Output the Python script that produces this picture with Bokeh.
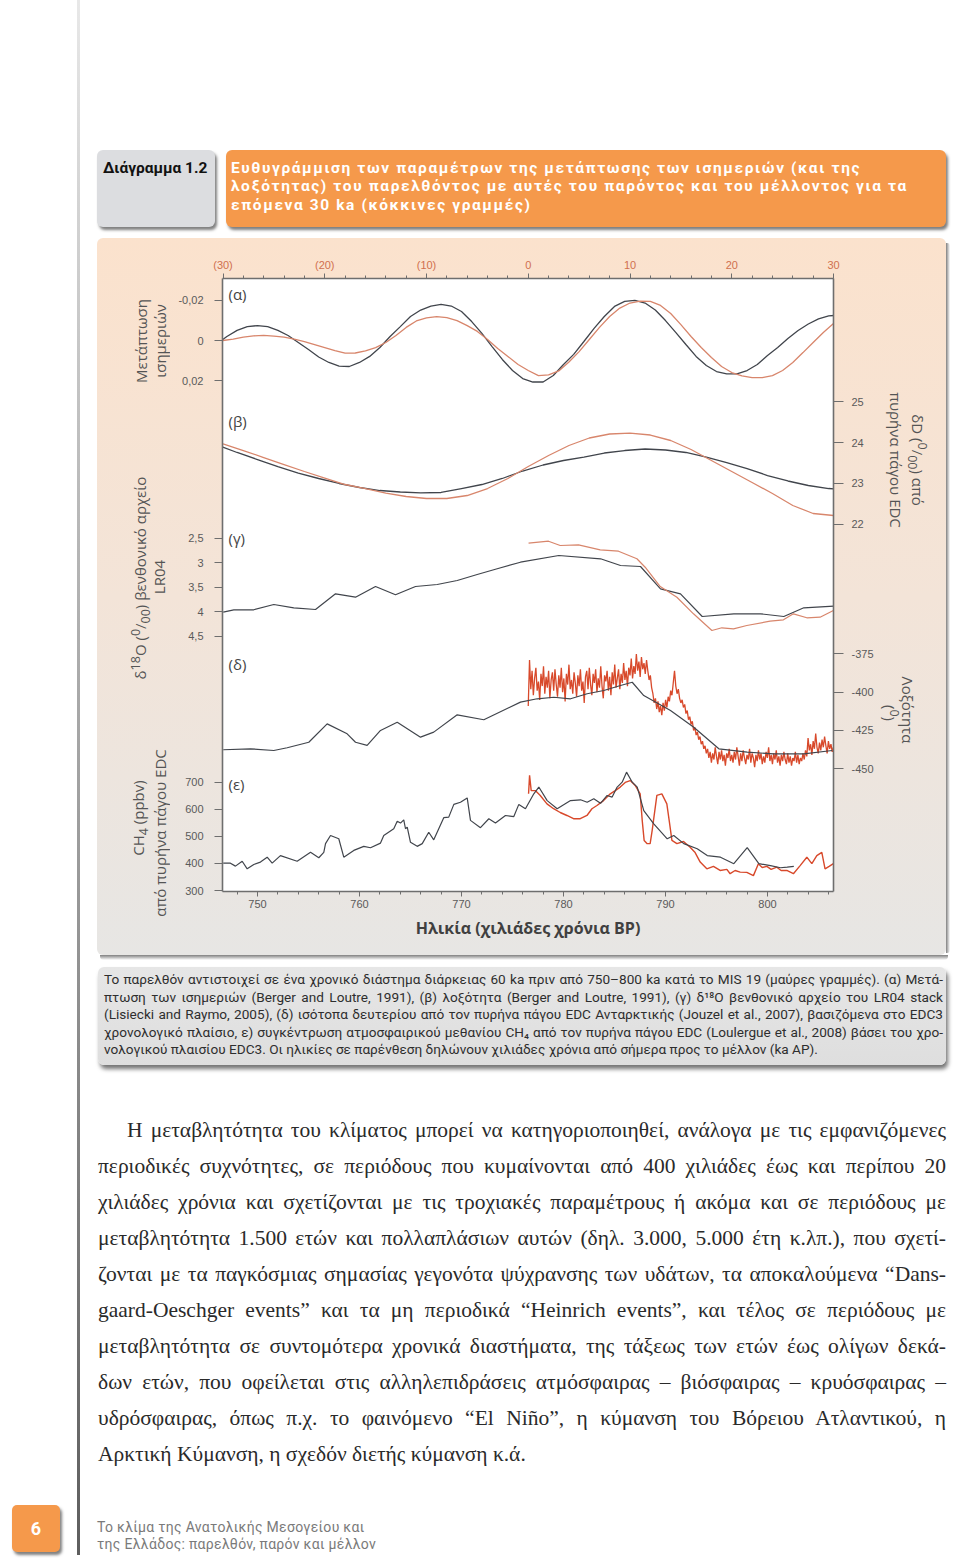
from bokeh.plotting import figure
from bokeh.models import Range1d, LinearAxis, FixedTicker, CustomJSTickFormatter, Label, Div
from bokeh.layouts import column, row
from bokeh.embed import file_html
from bokeh.resources import INLINE

# ------------------------------------------------------------------ data
# (a) precession  - past (black, age ka BP) / future (red, ka from present)
PREC_PAST_AGE = [746.6] + list(range(747, 807)) + [806.5]
PREC_PAST = [-0.0005, -0.0020, -0.0050, -0.0069, -0.0074, -0.0069, -0.0050, -0.0025, 0.0010, 0.0045,
             0.0082, 0.0109, 0.0127, 0.0129, 0.0109, 0.0079, 0.0035, -0.0020, -0.0069, -0.0119,
             -0.0151, -0.0171, -0.0179, -0.0171, -0.0144, -0.0094, -0.0035, 0.0030, 0.0094, 0.0149,
             0.0189, 0.0206, 0.0206, 0.0174, 0.0119, 0.0069, 0.0005, -0.0060, -0.0119, -0.0169,
             -0.0194, -0.0199, -0.0186, -0.0151, -0.0099, -0.0040, 0.0020, 0.0079, 0.0124, 0.0154,
             0.0166, 0.0166, 0.0149, 0.0119, 0.0074, 0.0035, -0.0010, -0.0050, -0.0082, -0.0107,
             -0.0122, -0.0124]
PREC_FUT_T = list(range(-30, 31))
PREC_FUT = [0.0, -0.0007, -0.0017, -0.0023, -0.0025, -0.0022, -0.0017, -0.0007, 0.0005, 0.0020,
            0.0035, 0.0050, 0.0063, 0.0062, 0.0052, 0.0035, 0.0010, -0.0025, -0.0065, -0.0097,
            -0.0112, -0.0119, -0.0114, -0.0099, -0.0074, -0.0045, -0.0005, 0.0040, 0.0079, 0.0119,
            0.0149, 0.0174, 0.0171, 0.0151, 0.0107, 0.0055, -0.0005, -0.0065, -0.0119, -0.0161,
            -0.0186, -0.0195, -0.0194, -0.0174, -0.0134, -0.0079, -0.0020, 0.0035, 0.0084, 0.0129,
            0.0159, 0.0176, 0.0184, 0.0184, 0.0174, 0.0149, 0.0109, 0.0060, 0.0010, -0.0040, -0.0084]

# (b) obliquity (degrees)
OBL_PAST_AGE = [746.6] + list(range(748, 807, 2)) + [806.5]
OBL_PAST = [23.885, 23.756, 23.584, 23.413, 23.254, 23.120, 22.998, 22.900, 22.826, 22.790,
            22.770, 22.778, 22.875, 22.973, 23.120, 23.303, 23.450, 23.560, 23.645, 23.743,
            23.804, 23.841, 23.817, 23.756, 23.645, 23.511, 23.364, 23.193, 23.059, 22.949,
            22.875, 22.868]
OBL_FUT_T = list(range(-30, 31, 2))
OBL_FUT = [23.968, 23.804, 23.633, 23.462, 23.291, 23.132, 22.973, 22.875, 22.765, 22.680,
           22.631, 22.631, 22.704, 22.875, 23.120, 23.413, 23.682, 23.927, 24.110, 24.208,
           24.227, 24.183, 24.049, 23.829, 23.560, 23.291, 23.022, 22.753, 22.460, 22.264, 22.215]

# (c) benthic d18O LR04 (permil)
D18_PAST_AGE = [746.64, 747.68, 749.64, 751.60, 753.56, 755.69, 757.65, 759.61, 761.57, 763.53,
                765.49, 767.62, 769.58, 771.54, 773.50, 775.78, 779.54, 783.63, 785.59, 787.55,
                789.51, 791.47, 793.60, 796.70, 799.31, 801.60, 803.56, 806.50]
D18_PAST = [4.004, 3.955, 3.955, 3.847, 3.914, 3.949, 3.629, 3.698, 3.480, 3.649,
            3.480, 3.439, 3.357, 3.235, 3.118, 2.984, 2.847, 2.914, 3.051, 3.071,
            3.527, 3.629, 4.092, 4.037, 4.037, 4.092, 3.914, 3.882]
D18_FUT_T = [0.03, 1.99, 3.14, 4.94, 7.07, 8.87, 10.68, 11.49, 12.97, 14.61, 16.24, 18.05,
             19.03, 20.17, 21.48, 23.77, 25.08, 26.06, 27.38, 28.68, 29.99]
D18_FUT = [2.596, 2.555, 2.643, 2.629, 2.731, 2.759, 2.914, 3.086, 3.480, 3.698, 4.037, 4.378,
           4.322, 4.343, 4.276, 4.188, 4.159, 4.037, 4.118, 4.106, 3.969]

# (d) EDC deuterium (permil)
DD_PAST_AGE = [746.64, 749.31, 751.60, 752.91, 755.03, 756.83, 758.79, 759.61, 760.75, 762.06,
               763.70, 765.98, 767.28, 769.58, 772.19, 775.78, 777.42, 779.05, 780.69, 782.32,
               783.95, 785.59, 786.74, 787.87, 790.49, 792.77, 795.23, 798.01, 800.62, 803.56, 806.34]
DD_PAST = [-437.6, -437.0, -438.1, -436.3, -432.7, -420.7, -427.2, -432.7, -434.8, -425.0,
           -419.6, -429.4, -426.1, -414.8, -418.0, -406.5, -404.3, -403.3, -404.3, -401.0,
           -398.9, -395.6, -393.5, -402.2, -412.0, -422.9, -437.0, -439.2, -440.3, -440.3, -438.1]
DD_FUT_T = [i / 8 for i in range(241)]   # sampled every 0.125 ka
DD_FUT = [-409, -379, -398, -386, -402, -391, -384, -399, -393, -405,
          -388, -396, -383, -401, -390, -397, -386, -404, -392, -387,
          -399, -385, -395, -403, -389, -397, -384, -400, -391, -406,
          -388, -395, -382, -398, -392, -401, -387, -394, -403, -389,
          -396, -385, -399, -393, -407, -390, -386, -398, -384, -395,
          -402, -388, -394, -385, -400, -391, -397, -383, -396, -404,
          -389, -393, -386, -399, -390, -402, -387, -395, -382, -397,
          -391, -385, -398, -388, -394, -381, -392, -386, -396, -384,
          -389, -378, -391, -383, -388, -375, -386, -380, -390, -377,
          -385,
          -381, -388, -379, -386, -392, -389, -397, -401, -407, -404,
          -411, -406, -413, -409, -415, -407, -412, -405, -410, -403,
          -406, -399, -402, -394, -386, -396, -401, -398, -404, -407,
          -405, -410, -408, -414, -412, -418, -416, -421, -419, -425,
          -423, -428, -426, -431, -429, -434, -432, -437, -435, -440,
          -437, -443, -439, -446, -440, -444, -436, -442, -447, -439,
          -444, -438, -445, -441, -448, -440, -443, -437, -445, -441,
          -446, -439, -444, -436, -442, -448, -440, -445, -438, -443,
          -447, -441, -444, -437, -446, -440, -443, -449, -441, -445,
          -438, -444, -440, -447, -442, -446, -439, -443, -436, -445,
          -441, -447, -440, -444, -438, -446, -442, -448, -441, -445,
          -439, -444, -447, -440, -446, -442, -448, -443, -445, -439,
          -446, -441, -447, -443, -445, -440, -444, -438, -442,
          -430, -438, -434, -441, -432, -437, -427, -436, -440, -433,
          -438, -431, -436, -429, -435, -440, -432, -437, -434, -439, -436]

# (e) EDC methane (ppbv)
CH4_PAST_AGE = [746.64, 747.35, 747.84, 748.50, 748.99, 749.64, 750.29, 750.95, 751.44, 752.25,
                753.89, 755.20, 756.01, 756.50, 756.67, 757.16, 757.97, 758.46, 759.44, 760.42,
                761.08, 762.06, 762.38, 763.36, 763.70, 764.02, 764.34, 764.51, 764.68, 765.00,
                765.66, 766.15, 766.79, 767.28, 768.26, 768.75, 769.25, 769.90, 770.56, 770.88,
                771.86, 772.68, 773.33, 774.31, 775.13, 775.62, 776.27, 777.09, 777.58, 778.40,
                779.38, 780.69, 781.67, 782.32, 782.97, 783.63, 784.28, 784.77, 785.26, 785.75,
                786.18, 786.74, 787.23, 787.87, 788.85, 790.17, 790.81, 791.79, 793.11, 794.09,
                795.39, 796.70, 798.01, 799.15, 800.29, 801.27, 801.93, 802.58]
CH4_PAST = [401, 401, 390, 408, 380, 396, 405, 423, 401, 429,
            408, 441, 421, 441, 473, 503, 491, 423, 448, 463,
            458, 475, 503, 528, 556, 549, 561, 528, 534, 478,
            463, 473, 515, 487, 569, 571, 618, 626, 642, 559,
            532, 565, 549, 577, 573, 618, 602, 657, 682, 632,
            602, 632, 635, 626, 639, 622, 651, 645, 682, 700,
            737, 700, 682, 595, 546, 491, 503, 473, 454, 429,
            423, 399, 458, 399, 392, 384, 386, 389]
CH4_FUT_T = [0.03, 0.13, 0.29, 0.69, 1.18, 1.84, 2.49, 3.14, 3.80, 4.45, 5.11, 5.77, 6.26, 6.75,
             7.40, 8.06, 8.55, 9.04, 9.53, 10.02, 10.51, 11.00, 11.20, 11.39, 11.69, 11.98, 12.18,
             12.31, 12.64, 13.13, 13.62, 13.85, 14.12, 14.61, 15.26, 15.91, 16.40, 16.90, 17.55,
             18.20, 18.86, 19.52, 19.84, 20.33, 20.83, 21.48, 22.13, 22.62, 22.99, 23.45, 23.87,
             24.43, 24.85, 25.41, 26.06, 26.72, 27.38, 27.87, 28.36, 28.85, 29.17, 29.57, 29.99]
CH4_FUT = [657, 725, 669, 669, 651, 620, 602, 588, 577, 565, 565, 577, 602, 614,
           632, 657, 669, 682, 699, 706, 688, 657, 559, 485, 473, 473, 522,
           559, 651, 657, 620, 559, 485, 473, 481, 460, 440, 405, 380,
           389, 374, 378, 362, 374, 368, 367, 355, 399, 385, 389, 378,
           386, 374, 374, 362, 392, 423, 399, 429, 441, 380, 389, 399]

AGE_TICKS = [750, 760, 770, 780, 790, 800]
AGE_MINOR = list(range(748, 807, 2))
FUT_TICKS = [-30, -20, -10, 0, 10, 20, 30]
FUT_LABELS = ["(30)", "(20)", "(10)", "0", "10", "20", "30"]
FUT_MINOR = list(range(-30, 31, 2))

PREC_TICKS = [-0.02, 0, 0.02]; PREC_LABELS = ["-0,02", "0", "0,02"]
D18_TICKS = [2.5, 3, 3.5, 4, 4.5]; D18_LABELS = ["2,5", "3", "3,5", "4", "4,5"]
CH4_TICKS = [700, 600, 500, 400, 300]; CH4_LABELS = ["700", "600", "500", "400", "300"]
OBL_TICKS = [25, 24, 23, 22]; OBL_LABELS = ["25", "24", "23", "22"]
DD_TICKS = [-375, -400, -425, -450]; DD_LABELS = ["-375", "-400", "-425", "-450"]

# ------------------------------------------------------------------ ranges
AGE_RANGE = Range1d(746.57, 806.47)
FUT_RANGE = Range1d(-30.05, 30.0)
R = {
    "prec": Range1d(0.27345, -0.03077),
    "obl": Range1d(13.022, 28.010),
    "d18": Range1d(9.704, -2.806),
    "dD": Range1d(-530.26, -129.61),
    "ch4": Range1d(296.31, 2559.97),
}

def frac(v, rng):
    return (v - rng.start) / (rng.end - rng.start)

BLACK = "#41454c"
SALMON = "#d8866c"
RED = "#d8492b"
AXC = "#6e6e6e"
PANEL_BG = "linear-gradient(180deg, #fbe2cd 0%, #f3e4d8 50%, #e7e6e4 100%)"

p = figure(frame_width=611, frame_height=613,
           min_border_left=52, min_border_right=47, min_border_top=40, min_border_bottom=64,
           x_range=AGE_RANGE, y_range=Range1d(0, 1),
           x_axis_location=None, y_axis_location=None,
           output_backend="svg", toolbar_location=None, margin=(0, 0, 0, 0))
p.extra_x_ranges = {"fut": FUT_RANGE}
p.extra_y_ranges = R
p.grid.visible = False
p.outline_line_color = None
p.background_fill_color = "white"
p.border_fill_color = None
p.styles = {"background": PANEL_BG}

# lines
p.line(PREC_PAST_AGE, PREC_PAST, y_range_name="prec", line_color=BLACK, line_width=1.3)
p.line(PREC_FUT_T, PREC_FUT, x_range_name="fut", y_range_name="prec", line_color=SALMON, line_width=1.3)
p.line(OBL_PAST_AGE, OBL_PAST, y_range_name="obl", line_color=BLACK, line_width=1.3)
p.line(OBL_FUT_T, OBL_FUT, x_range_name="fut", y_range_name="obl", line_color=SALMON, line_width=1.3)
p.line(D18_PAST_AGE, D18_PAST, y_range_name="d18", line_color=BLACK, line_width=1.2)
p.line(D18_FUT_T, D18_FUT, x_range_name="fut", y_range_name="d18", line_color=SALMON, line_width=1.2)
p.line(DD_FUT_T, DD_FUT, x_range_name="fut", y_range_name="dD", line_color=RED, line_width=1.3)
p.line(DD_PAST_AGE, DD_PAST, y_range_name="dD", line_color=BLACK, line_width=1.2)
p.line(CH4_FUT_T, CH4_FUT, x_range_name="fut", y_range_name="ch4", line_color=RED, line_width=1.4)
p.line(CH4_PAST_AGE, CH4_PAST, y_range_name="ch4", line_color=BLACK, line_width=1.2)

def style_axis(ax, tick_out, minor_out, label_color="#5a5a5a", standoff=4):
    ax.axis_line_color = AXC
    ax.axis_line_width = 1.6
    ax.major_tick_line_color = AXC
    ax.minor_tick_line_color = AXC
    ax.major_tick_out = tick_out
    ax.major_tick_in = 0
    ax.minor_tick_out = minor_out
    ax.minor_tick_in = 0
    ax.major_label_text_font = "Liberation Sans"
    ax.major_label_text_font_size = "11px"
    ax.major_label_text_color = label_color
    ax.major_label_standoff = standoff

bottom = LinearAxis(ticker=FixedTicker(ticks=AGE_TICKS, minor_ticks=AGE_MINOR))
style_axis(bottom, 5, 3, standoff=3)
bottom.axis_label = "Ηλικία (χιλιάδες χρόνια BP)"
bottom.axis_label_text_font = "Open Sans"
bottom.axis_label_text_font_style = "bold"
bottom.axis_label_text_font_size = "16px"
bottom.axis_label_text_color = "#404040"
bottom.axis_label_standoff = 6
p.add_layout(bottom, "below")

top = LinearAxis(x_range_name="fut", ticker=FixedTicker(ticks=FUT_TICKS, minor_ticks=FUT_MINOR))
top.major_label_overrides = {t: l for t, l in zip(FUT_TICKS, FUT_LABELS)}
style_axis(top, 5, 3, label_color="#d0704f", standoff=3)
p.add_layout(top, "above")

def nearest_formatter(pos, labels):
    return CustomJSTickFormatter(args=dict(pos=pos, labs=labels), code="""
        let best = 0, d = 1e9;
        for (let i = 0; i < pos.length; i++) { const e = Math.abs(pos[i] - tick); if (e < d) { d = e; best = i; } }
        return labs[best];
    """)

left_pos = ([frac(v, R["prec"]) for v in PREC_TICKS] + [frac(v, R["d18"]) for v in D18_TICKS]
            + [frac(v, R["ch4"]) for v in CH4_TICKS])
left_lab = PREC_LABELS + D18_LABELS + CH4_LABELS
left = LinearAxis(ticker=FixedTicker(ticks=left_pos, minor_ticks=[]), formatter=nearest_formatter(left_pos, left_lab))
style_axis(left, 8, 0, standoff=11)
p.add_layout(left, "left")

right_pos = [frac(v, R["obl"]) for v in OBL_TICKS] + [frac(v, R["dD"]) for v in DD_TICKS]
right_lab = OBL_LABELS + DD_LABELS
right = LinearAxis(ticker=FixedTicker(ticks=right_pos, minor_ticks=[]), formatter=nearest_formatter(right_pos, right_lab))
style_axis(right, 10, 0, standoff=8)
p.add_layout(right, "right")

# panel letters inside the frame (positions in page px of the frame)
FX0, FX1, FY0, FY1 = 222, 833, 278, 891
def ax_(px):
    return AGE_RANGE.start + (px - FX0) / (FX1 - FX0) * (AGE_RANGE.end - AGE_RANGE.start)
def ay_(py):
    return (FY1 - py) / (FY1 - FY0)

for t, py in [("(α)", 293), ("(β)", 420), ("(γ)", 537), ("(δ)", 663), ("(ε)", 783)]:
    p.add_layout(Label(x=ax_(228), y=ay_(py), text=t, text_align="left", text_baseline="middle",
                       text_font="Open Sans", text_font_size="15px", text_color="#444444"))

# ------------------------------------------------------------------ page texts
HEAD_LABEL = "Διάγραμμα 1.2"
HEAD_LINES = ["Ευθυγράμμιση των παραμέτρων της μετάπτωσης των ισημεριών (και της",
              "λοξότητας) του παρελθόντος με αυτές του παρόντος και του μέλλοντος για τα",
              "επόμενα 30 ka (κόκκινες γραμμές)"]
LEFT_TITLES = [("Μετάπτωση", 141, 341), ("ισημεριών", 160, 341),
               ("δ<sup>18</sup>O (<sup>0</sup>/<sub>00</sub>) βενθονικό αρχείο", 141, 578), ("LR04", 159, 577),
               ("CH<sub>4</sub> (ppbv)", 141, 818), ("από πυρήνα πάγου EDC", 160, 833)]
RIGHT_TITLES = [("δD (<sup>0</sup>/<sub>00</sub>) από", 917, 460), ("πυρήνα πάγου EDC", 896, 460),
                ("Λοξότητα", 908, 710), ("(<sup>0</sup>)", 892, 713)]
CAPTION_LINES = [
    "Το παρελθόν αντιστοιχεί σε ένα χρονικό διάστημα διάρκειας 60 ka πριν από 750–800 ka κατά το MIS 19 (μαύρες γραμμές). (α) Μετά-",
    "πτωση των ισημεριών (Berger and Loutre, 1991), (β) λοξότητα (Berger and Loutre, 1991), (γ) δ¹⁸Ο βενθονικό αρχείο του LR04 stack",
    "(Lisiecki and Raymo, 2005), (δ) ισότοπα δευτερίου από τον πυρήνα πάγου EDC Ανταρκτικής (Jouzel et al., 2007), βασιζόμενα στο EDC3",
    "χρονολογικό πλαίσιο, ε) συγκέντρωση ατμοσφαιρικού μεθανίου CH₄ από τον πυρήνα πάγου EDC (Loulergue et al., 2008) βάσει του χρο-",
    "νολογικού πλαισίου EDC3. Οι ηλικίες σε παρένθεση δηλώνουν χιλιάδες χρόνια από σήμερα προς το μέλλον (ka AP).",
]
BODY_LINES = [
    "Η μεταβλητότητα του κλίματος μπορεί να κατηγοριοποιηθεί, ανάλογα με τις εμφανιζόμενες",
    "περιοδικές συχνότητες, σε περιόδους που κυμαίνονται από 400 χιλιάδες έως και περίπου 20",
    "χιλιάδες χρόνια και σχετίζονται με τις τροχιακές παραμέτρους ή ακόμα και σε περιόδους με",
    "μεταβλητότητα 1.500 ετών και πολλαπλάσιων αυτών (δηλ. 3.000, 5.000 έτη κ.λπ.), που σχετί-",
    "ζονται με τα παγκόσμιας σημασίας γεγονότα ψύχρανσης των υδάτων, τα αποκαλούμενα “Dans-",
    "gaard-Oeschger events” και τα μη περιοδικά “Heinrich events”, και τέλος σε περιόδους με",
    "μεταβλητότητα σε συντομότερα χρονικά διαστήματα, της τάξεως των ετών έως ολίγων δεκά-",
    "δων ετών, που οφείλεται στις αλληλεπιδράσεις ατμόσφαιρας – βιόσφαιρας – κρυόσφαιρας –",
    "υδρόσφαιρας, όπως π.χ. το φαινόμενο “El Niño”, η κύμανση του Βόρειου Ατλαντικού, η",
    "Αρκτική Κύμανση, η σχεδόν διετής κύμανση κ.ά.",
]
FOOTER_LINES = ["Το κλίμα της Ανατολικής Μεσογείου και", "της Ελλάδος: παρελθόν, παρόν και μέλλον"]
PAGE_NO = "6"

SANS = "Roboto, 'Liberation Sans', sans-serif"
SHADOW = "2px 3px 3px rgba(0,0,0,0.5)"
PANEL_TOP = 238   # page y of chart panel top
SIDE_W, RIGHT_X = 170, 880

head_html = f"""
<div style="position:relative;width:952px;height:238px;font-family:{SANS};">
 <div style="position:absolute;left:77px;top:0;width:3px;height:238px;background:linear-gradient(#e8e8e8,#d0d0d0);"></div>
 <div style="position:absolute;left:97px;top:150px;width:118px;height:77px;border-radius:6px;background:#dcdde0;box-shadow:{SHADOW};"></div>
 <div style="position:absolute;left:103px;top:159px;font-weight:bold;font-size:15.5px;line-height:18px;color:#111;white-space:nowrap;">{HEAD_LABEL}</div>
 <div style="position:absolute;left:226px;top:150px;width:720px;height:77px;border-radius:6px;background:#f5994b;box-shadow:{SHADOW};"></div>
 <div style="position:absolute;left:231px;top:158.5px;font-weight:bold;font-size:15.5px;line-height:18.5px;letter-spacing:1.6px;color:#ffffff;white-space:nowrap;">{'<br>'.join(HEAD_LINES)}</div>
</div>"""

def rot_title(text, x, y, deg):
    return (f'<div style="position:absolute;left:{x}px;top:{y}px;transform:translate(-50%,-50%) rotate({deg}deg);'
            f'white-space:nowrap;font-size:15px;line-height:18px;">{text}</div>')

side_titles = "".join(rot_title(t, x, y - PANEL_TOP, -90) for t, x, y in LEFT_TITLES)
side_html = f"""<div style="position:relative;width:{SIDE_W}px;height:717px;font-family:'Open Sans',sans-serif;color:#555;">
 <div style="position:absolute;left:77px;top:0;width:3px;height:717px;background:linear-gradient(#d0d0d0,#939393);"></div>
 <div style="position:absolute;left:97px;top:0;width:{SIDE_W-97}px;height:717px;background:{PANEL_BG};border-radius:6px 0 0 6px;"></div>
 {side_titles}
</div>"""

right_titles = "".join(rot_title(t, x - RIGHT_X, y - PANEL_TOP, 90) for t, x, y in RIGHT_TITLES)
right_html = f"""<div style="position:relative;width:72px;height:717px;font-family:'Open Sans',sans-serif;color:#555;">
 <div style="position:absolute;left:0;top:0;width:66px;height:717px;background:{PANEL_BG};border-radius:0 6px 6px 0;"></div>
 <div style="position:absolute;left:66px;top:5px;width:4px;height:710px;border-radius:0 3px 3px 0;background:linear-gradient(to right,rgba(0,0,0,0.5),rgba(0,0,0,0));"></div>
 {right_titles}
</div>"""

def just_lines(lines, lh, indent=0):
    out = []
    n = len(lines)
    for i, l in enumerate(lines):
        last = "left" if i == n - 1 else "justify"
        ind = f"text-indent:{indent}px;" if (i == 0 and indent) else ""
        out.append(f'<div style="height:{lh}px;line-height:{lh}px;text-align:justify;text-align-last:{last};white-space:nowrap;{ind}">{l}</div>')
    return "".join(out)

B0 = 955  # page y where the bottom block starts
bottom_html = f"""
<div style="position:relative;width:952px;height:600px;font-family:{SANS};">
 <div style="position:absolute;left:77px;top:0;width:3px;height:600px;background:linear-gradient(#939393,#5e5e5e);"></div>
 <div style="position:absolute;left:100px;top:0;width:848px;height:5px;border-radius:0 0 4px 4px;background:linear-gradient(rgba(0,0,0,0.5),rgba(0,0,0,0));"></div>
 <div style="position:absolute;left:98px;top:{967-B0}px;width:848px;height:98px;border-radius:6px;background:linear-gradient(#e6e6e6,#dedede);box-shadow:2px 4px 4px rgba(0,0,0,0.55);"></div>
 <div style="position:absolute;left:104px;top:{971-B0}px;width:839px;font-size:13.6px;color:#2e2e2e;">{just_lines(CAPTION_LINES, 17.5)}</div>
 <div style="position:absolute;left:98px;top:{1112-B0}px;width:848px;font-family:'Liberation Serif','Times New Roman',serif;font-size:21.5px;color:#2a2a2a;">{just_lines(BODY_LINES, 36, indent=29)}</div>
 <div style="position:absolute;left:12px;top:{1505-B0}px;width:48px;height:47px;border-radius:5px;background:#f5994b;box-shadow:{SHADOW};color:#fff;font-weight:bold;font-size:18px;line-height:47px;text-align:center;">{PAGE_NO}</div>
 <div style="position:absolute;left:97px;top:{1519-B0}px;font-size:14px;line-height:17px;color:#7a7a7a;letter-spacing:0.3px;white-space:nowrap;">{'<br>'.join(FOOTER_LINES)}</div>
</div>"""

head = Div(text=head_html, width=952, height=238, margin=(0, 0, 0, 0))
side = Div(text=side_html, width=SIDE_W, height=717, margin=(0, 0, 0, 0))
rside = Div(text=right_html, width=72, height=717, margin=(0, 0, 0, 0))
foot = Div(text=bottom_html, width=952, height=600, margin=(0, 0, 0, 0))

layout = column(head, row(side, p, rside, spacing=0, margin=(0, 0, 0, 0)), foot, spacing=0, margin=(0, 0, 0, 0))

with open("out.html", "w") as f:
    f.write(file_html(layout, INLINE))
